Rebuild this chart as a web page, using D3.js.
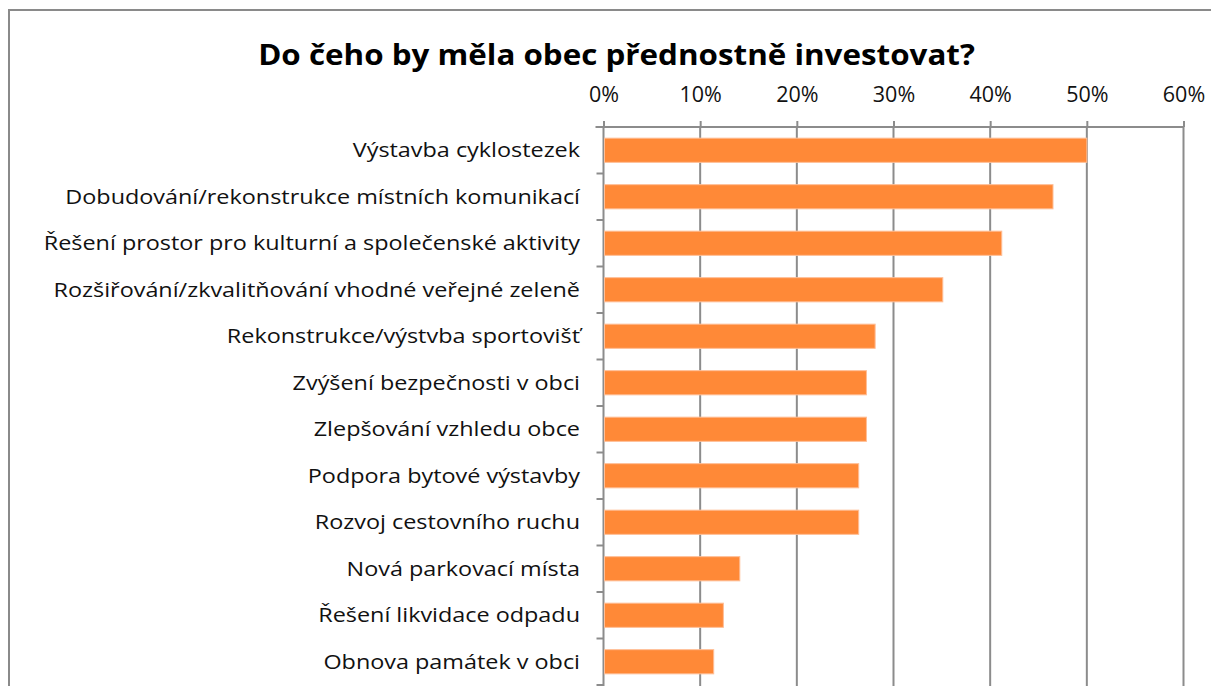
<!DOCTYPE html>
<html><head><meta charset="utf-8">
<script src="https://cdn.jsdelivr.net/npm/d3@7"></script>
<style>body{margin:0;background:#fff}svg{display:block}text{font-family:"Open Sans","Noto Sans",sans-serif}</style>
</head><body>
<svg id="c" width="1211" height="686"></svg>
<script>
const title = "Do čeho by měla obec přednostně investovat?";
const categories = [
  "Výstavba cyklostezek",
  "Dobudování/rekonstrukce místních komunikací",
  "Řešení prostor pro kulturní a společenské aktivity",
  "Rozšiřování/zkvalitňování vhodné veřejné zeleně",
  "Rekonstrukce/výstvba sportovišť",
  "Zvýšení bezpečnosti v obci",
  "Zlepšování vzhledu obce",
  "Podpora bytové výstavby",
  "Rozvoj cestovního ruchu",
  "Nová parkovací místa",
  "Řešení likvidace odpadu",
  "Obnova památek v obci"
];
const values = [0.500, 0.465, 0.412, 0.351, 0.281, 0.272, 0.272, 0.264, 0.264, 0.141, 0.124, 0.114];
const xTicks = [0, 0.1, 0.2, 0.3, 0.4, 0.5, 0.6];

const svg = d3.select("#c");
svg.append("rect").attr("x",9).attr("y",10).attr("width",1230).attr("height",720)
  .attr("fill","#fff").attr("stroke","#8a8a8a").attr("stroke-width",2);

svg.append("text").attr("transform","translate(616.5,65) scale(1.12,1)").attr("text-anchor","middle")
  .attr("font-size",28).attr("font-weight","bold").attr("fill","#000").text(title);

const x0 = 603.5, x1 = 1183.5, yTop = 127, yBot = 685;
const x = d3.scaleLinear().domain([0,0.6]).range([x0,x1]);
const y = d3.scaleBand().domain(categories).range([yTop,yBot]).paddingInner(0.48).paddingOuter(0.24);

// gridlines
svg.selectAll("line.grid").data(xTicks).join("line").attr("class","grid")
  .attr("x1",d=>x(d)).attr("x2",d=>x(d)).attr("y1",yTop).attr("y2",yBot+5)
  .attr("stroke","#8c8c8c").attr("stroke-width",2);

// top axis
const xAxis = d3.axisTop(x).tickValues(xTicks).tickFormat(d3.format(".0%")).tickSize(6).tickSizeOuter(0);
const ax = svg.append("g").attr("transform",`translate(0,${yTop})`).call(xAxis);
ax.select(".domain").attr("stroke","#8c8c8c").attr("stroke-width",2).attr("d",`M${x0-8},0H${x1}`);
ax.selectAll(".tick line").attr("stroke","#8c8c8c").attr("stroke-width",2);
ax.selectAll(".tick text").attr("font-size",21.5).attr("fill","#111").attr("y",-25.5).attr("dy",0)
  .style("font-family","'Open Sans','Noto Sans',sans-serif");

// left axis ticks
const catTicks = d3.range(categories.length+1).map(i => yTop + i*(yBot-yTop)/categories.length);
svg.selectAll("line.ct").data(catTicks).join("line").attr("class","ct")
  .attr("x1",x0-7).attr("x2",x0).attr("y1",d=>d).attr("y2",d=>d)
  .attr("stroke","#8c8c8c").attr("stroke-width",2);

// bars
svg.selectAll("rect.bar").data(values).join("rect").attr("class","bar")
  .attr("x",x0+1).attr("y",(d,i)=>y(categories[i]))
  .attr("width",d=>x(d)-x0-1).attr("height",y.bandwidth())
  .attr("fill","#FF8937").attr("stroke","#FFBE96").attr("stroke-width",1);

// labels
svg.selectAll("text.lab").data(categories).join("text").attr("class","lab")
  .attr("transform",d=>`translate(580,${y(d)+y.bandwidth()/2+7}) scale(1.2,1)`)
  .attr("text-anchor","end").attr("font-size",19.5).attr("fill","#111").text(d=>d);
</script>
</body></html>
